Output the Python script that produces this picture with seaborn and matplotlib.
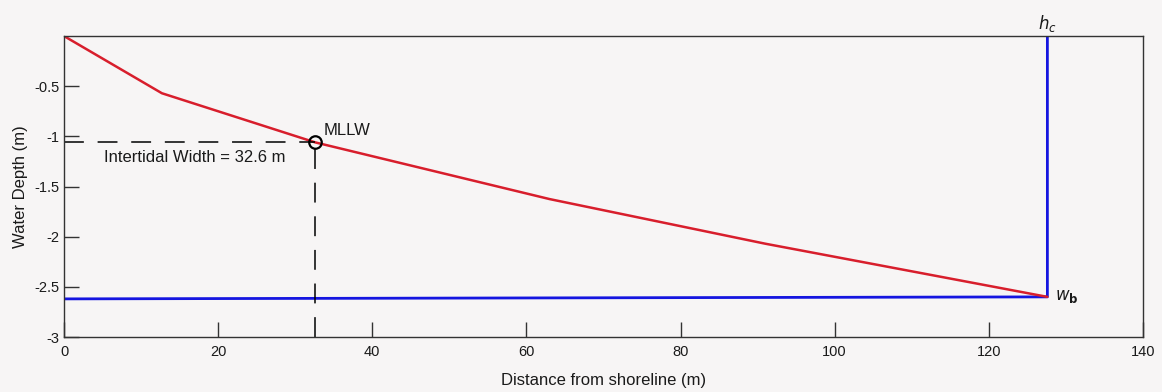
import matplotlib
matplotlib.use("Agg")
import matplotlib.pyplot as plt
import seaborn as sns
import pandas as pd

# Data
profile_x = [0, 12.7, 32.6, 63.0, 91.0, 127.6]
profile_y = [0, -0.57, -1.06, -1.625, -2.07, -2.60]
closure_x = [0, 127.6, 127.6]
closure_y = [-2.62, -2.60, 0]
mllw_x = 32.6
mllw_y = -1.06
x_ticks = [0, 20, 40, 60, 80, 100, 120, 140]
y_ticks = [-3, -2.5, -2, -1.5, -1, -0.5]
y_tick_labels = ["-3", "-2.5", "-2", "-1.5", "-1", "-0.5"]

sns.set_style("ticks")
plt.rcParams["font.family"] = ["Liberation Sans", "DejaVu Sans"]

bg = "#f7f5f5"
txt = "#1a1a1a"
fig = plt.figure(figsize=(11.62, 3.92), dpi=100, facecolor=bg)
ax = fig.add_axes([0.0551, 0.1403, 0.9285, 0.7677])
ax.set_facecolor(bg)

prof = pd.DataFrame({"x": profile_x, "y": profile_y})
clos = pd.DataFrame({"x": closure_x, "y": closure_y})

sns.lineplot(data=clos, x="x", y="y", sort=False, estimator=None, color="#1515e0", lw=2.0, ax=ax)
sns.lineplot(data=prof, x="x", y="y", sort=False, estimator=None, color="#d81e2c", lw=1.8, ax=ax)

# dashed guide lines
ax.plot([0, mllw_x], [mllw_y, mllw_y], color="black", lw=1.1, dashes=(13, 9))
ax.plot([mllw_x, mllw_x], [-3, mllw_y], color="black", lw=1.1, dashes=(13, 9))
ax.plot([mllw_x], [mllw_y], marker="o", ms=9, mfc="none", mec="black", mew=1.6)

ax.text(mllw_x + 1.1, mllw_y + 0.04, "MLLW", fontsize=12, ha="left", va="bottom", color=txt)
ax.text(5.2, mllw_y - 0.15, "Intertidal Width = 32.6 m", fontsize=12, ha="left", va="center", color=txt)
ax.text(127.6, 0.02, r"$h_c$", fontsize=12, ha="center", va="bottom", color=txt)
ax.text(128.6, -2.60, r"$w_\mathbf{b}$", fontsize=12, ha="left", va="center", color=txt)

ax.set_xlim(0, 140)
ax.set_ylim(-3, 0)
ax.set_xticks(x_ticks)
ax.set_xticklabels([str(t) for t in x_ticks])
ax.set_yticks(y_ticks)
ax.set_yticklabels(y_tick_labels)
ax.tick_params(direction="in", length=11, width=1.0, color="#333333", labelsize=10.5, labelcolor=txt)
ax.tick_params(axis="x", pad=6)
ax.tick_params(axis="y", pad=3)
for s in ax.spines.values():
    s.set_visible(True)
    s.set_linewidth(1.0)
    s.set_color("#333333")

ax.set_xlabel("Distance from shoreline (m)", fontsize=12, labelpad=10, color=txt)
ax.set_ylabel("Water Depth (m)", fontsize=12, labelpad=5, color=txt)

fig.savefig("out.png", dpi=100, facecolor=bg)
